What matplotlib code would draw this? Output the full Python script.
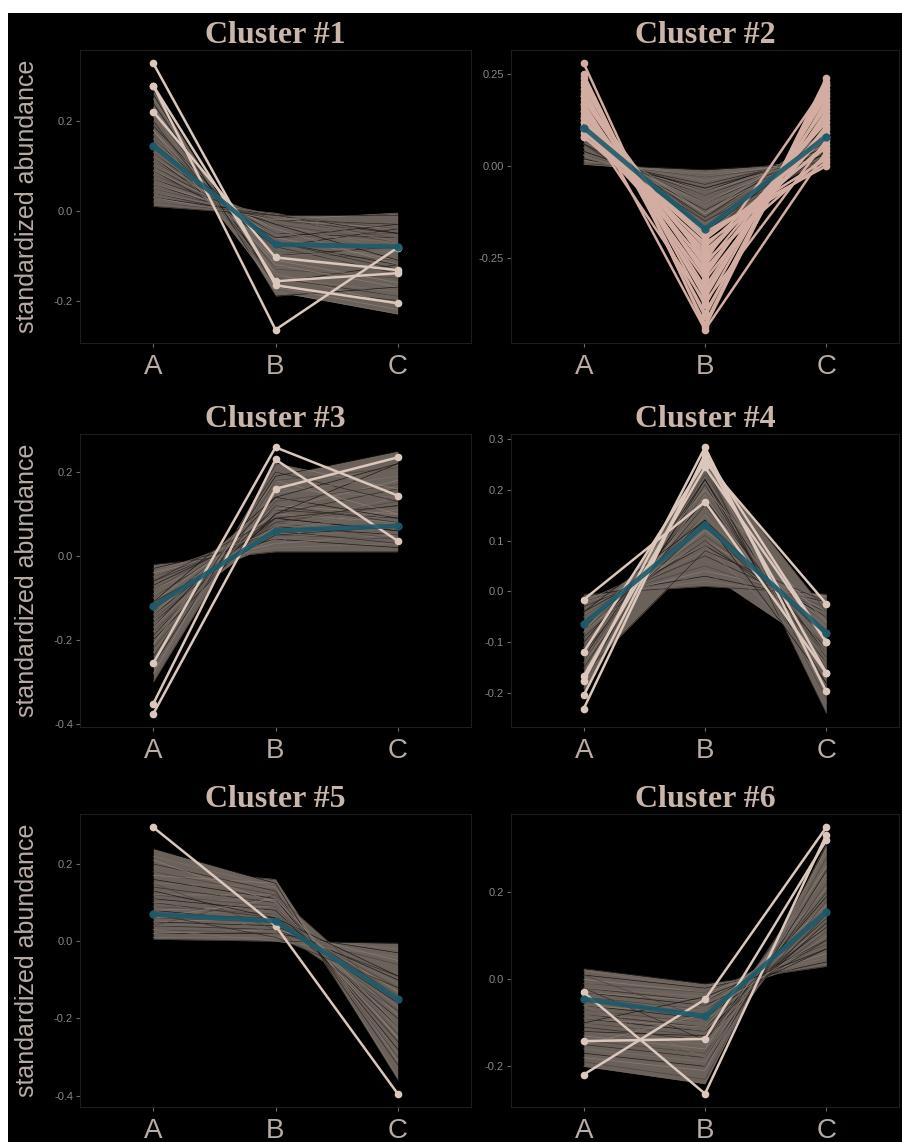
import numpy as np
import matplotlib
matplotlib.use("Agg")
import matplotlib.pyplot as plt
from matplotlib import font_manager
from matplotlib.patches import Rectangle

plt.rcParams["axes.unicode_minus"] = False

categories = ["A", "B", "C"]

# thin member profiles (A, B, C) per cluster
cluster1_lines = [
    (0.27, -0.17, -0.20), (0.25, -0.15, -0.18), (0.24, -0.16, -0.12), (0.23, -0.14, -0.21),
    (0.22, -0.13, -0.15), (0.21, -0.12, -0.10), (0.20, -0.15, -0.19), (0.19, -0.11, -0.13),
    (0.19, -0.10, -0.08), (0.18, -0.12, -0.17), (0.17, -0.09, -0.11), (0.17, -0.13, -0.06),
    (0.16, -0.08, -0.14), (0.16, -0.10, -0.09), (0.15, -0.07, -0.12), (0.15, -0.11, -0.16),
    (0.14, -0.06, -0.05), (0.14, -0.09, -0.10), (0.13, -0.07, -0.13), (0.13, -0.05, -0.07),
    (0.12, -0.08, -0.04), (0.12, -0.06, -0.11), (0.11, -0.04, -0.08), (0.11, -0.07, -0.15),
    (0.10, -0.05, -0.06), (0.10, -0.03, -0.09), (0.09, -0.06, -0.03), (0.09, -0.04, -0.12),
    (0.08, -0.03, -0.07), (0.08, -0.05, -0.10), (0.07, -0.02, -0.05), (0.07, -0.04, -0.08),
    (0.06, -0.03, -0.11), (0.06, -0.02, -0.04), (0.05, -0.02, -0.06), (0.05, -0.01, -0.09),
    (0.04, -0.02, -0.03), (0.04, -0.01, -0.07), (0.03, -0.01, -0.05), (0.03, -0.02, -0.005),
    (0.02, -0.01, -0.04), (0.02, -0.005, -0.06), (0.01, -0.01, -0.01), (0.22, -0.18, -0.23),
    (0.26, -0.19, -0.17), (0.18, -0.17, -0.22), (0.20, -0.16, -0.14), (0.15, -0.14, -0.19),
]
cluster2_lines = [
    (0.12, -0.20, 0.10), (0.11, -0.19, 0.09), (0.11, -0.18, 0.07), (0.10, -0.18, 0.10),
    (0.10, -0.17, 0.08), (0.09, -0.16, 0.09), (0.09, -0.15, 0.06), (0.08, -0.15, 0.07),
    (0.08, -0.14, 0.08), (0.07, -0.13, 0.06), (0.07, -0.14, 0.05), (0.07, -0.12, 0.07),
    (0.06, -0.12, 0.05), (0.06, -0.11, 0.06), (0.06, -0.10, 0.04), (0.05, -0.10, 0.05),
    (0.05, -0.09, 0.04), (0.05, -0.11, 0.06), (0.04, -0.08, 0.04), (0.04, -0.09, 0.03),
    (0.04, -0.07, 0.05), (0.03, -0.07, 0.03), (0.03, -0.06, 0.04), (0.03, -0.08, 0.02),
    (0.02, -0.05, 0.03), (0.02, -0.04, 0.02), (0.02, -0.06, 0.03), (0.015, -0.03, 0.02),
    (0.01, -0.03, 0.01), (0.01, -0.02, 0.02), (0.005, -0.01, 0.01), (0.005, -0.02, 0.005),
    (0.09, -0.19, 0.04), (0.10, -0.13, 0.09), (0.08, -0.17, 0.03), (0.12, -0.16, 0.08),
    (0.06, -0.15, 0.02), (0.03, -0.10, 0.06),
]
cluster3_lines = [
    (-0.02, 0.01, 0.01), (-0.03, 0.02, 0.03), (-0.03, 0.04, 0.02), (-0.04, 0.03, 0.05),
    (-0.05, 0.05, 0.04), (-0.05, 0.02, 0.06), (-0.06, 0.06, 0.03), (-0.07, 0.04, 0.07),
    (-0.07, 0.07, 0.05), (-0.08, 0.05, 0.08), (-0.08, 0.08, 0.04), (-0.09, 0.06, 0.09),
    (-0.10, 0.09, 0.06), (-0.10, 0.07, 0.11), (-0.11, 0.05, 0.07), (-0.11, 0.10, 0.08),
    (-0.12, 0.08, 0.12), (-0.12, 0.06, 0.05), (-0.13, 0.11, 0.09), (-0.13, 0.07, 0.14),
    (-0.14, 0.09, 0.06), (-0.14, 0.12, 0.10), (-0.15, 0.08, 0.13), (-0.15, 0.13, 0.07),
    (-0.16, 0.10, 0.16), (-0.16, 0.06, 0.11), (-0.17, 0.14, 0.09), (-0.17, 0.11, 0.18),
    (-0.18, 0.09, 0.12), (-0.18, 0.15, 0.20), (-0.19, 0.12, 0.08), (-0.20, 0.16, 0.14),
    (-0.20, 0.10, 0.22), (-0.21, 0.18, 0.10), (-0.22, 0.13, 0.17), (-0.23, 0.17, 0.24),
    (-0.24, 0.20, 0.13), (-0.25, 0.15, 0.19), (-0.26, 0.19, 0.25), (-0.28, 0.22, 0.16),
    (-0.30, 0.18, 0.21), (-0.09, 0.03, 0.15), (-0.06, 0.09, 0.12), (-0.04, 0.06, 0.10),
    (-0.11, 0.14, 0.22),
]
cluster4_lines = [
    (-0.005, 0.01, -0.005), (-0.01, 0.02, -0.01), (-0.01, 0.03, -0.02), (-0.02, 0.04, -0.01),
    (-0.02, 0.05, -0.03), (-0.03, 0.06, -0.02), (-0.03, 0.07, -0.04), (-0.04, 0.08, -0.03),
    (-0.04, 0.09, -0.05), (-0.05, 0.10, -0.04), (-0.05, 0.11, -0.06), (-0.06, 0.12, -0.05),
    (-0.06, 0.10, -0.08), (-0.07, 0.13, -0.07), (-0.07, 0.14, -0.09), (-0.08, 0.12, -0.06),
    (-0.08, 0.15, -0.10), (-0.09, 0.16, -0.08), (-0.09, 0.13, -0.11), (-0.10, 0.17, -0.09),
    (-0.10, 0.18, -0.12), (-0.11, 0.15, -0.10), (-0.11, 0.19, -0.13), (-0.12, 0.20, -0.11),
    (-0.12, 0.17, -0.14), (-0.13, 0.21, -0.12), (-0.13, 0.22, -0.15), (-0.14, 0.19, -0.16),
    (-0.14, 0.23, -0.13), (-0.15, 0.24, -0.17), (-0.15, 0.21, -0.18), (-0.16, 0.25, -0.15),
    (-0.17, 0.22, -0.19), (-0.17, 0.26, -0.20), (-0.18, 0.24, -0.21), (-0.19, 0.27, -0.22),
    (-0.20, 0.25, -0.24), (-0.02, 0.09, -0.14), (-0.04, 0.14, -0.18), (-0.08, 0.20, -0.06),
    (-0.12, 0.26, -0.04), (-0.06, 0.04, -0.12), (-0.16, 0.08, -0.02),
]
cluster5_lines = [
    (0.005, 0.0, -0.005), (0.01, 0.01, -0.02), (0.02, 0.02, -0.03), (0.02, 0.03, -0.05),
    (0.03, 0.02, -0.06), (0.03, 0.04, -0.08), (0.04, 0.03, -0.09), (0.04, 0.05, -0.11),
    (0.05, 0.04, -0.10), (0.05, 0.06, -0.13), (0.06, 0.05, -0.12), (0.06, 0.07, -0.15),
    (0.07, 0.06, -0.14), (0.07, 0.08, -0.17), (0.08, 0.05, -0.16), (0.08, 0.09, -0.19),
    (0.09, 0.07, -0.18), (0.09, 0.10, -0.21), (0.10, 0.06, -0.20), (0.10, 0.11, -0.23),
    (0.11, 0.08, -0.22), (0.12, 0.12, -0.25), (0.12, 0.09, -0.24), (0.13, 0.13, -0.27),
    (0.14, 0.10, -0.26), (0.15, 0.14, -0.29), (0.16, 0.11, -0.28), (0.17, 0.15, -0.31),
    (0.18, 0.12, -0.30), (0.19, 0.16, -0.33), (0.20, 0.13, -0.32), (0.22, 0.14, -0.35),
    (0.24, 0.15, -0.36), (0.21, 0.10, -0.25), (0.15, 0.03, -0.18), (0.11, 0.02, -0.07),
    (0.07, 0.01, -0.12), (0.03, 0.0, -0.04), (0.13, 0.06, -0.09), (0.06, 0.11, -0.22),
    (0.04, 0.12, -0.16), (0.18, 0.07, -0.14),
]
cluster6_lines = [
    (0.025, -0.01, 0.03), (0.02, -0.02, 0.05), (0.01, -0.02, 0.04), (0.0, -0.03, 0.06),
    (-0.01, -0.03, 0.08), (-0.01, -0.04, 0.05), (-0.02, -0.05, 0.09), (-0.02, -0.04, 0.11),
    (-0.03, -0.06, 0.07), (-0.03, -0.05, 0.12), (-0.04, -0.07, 0.10), (-0.04, -0.06, 0.14),
    (-0.05, -0.08, 0.09), (-0.05, -0.07, 0.15), (-0.06, -0.09, 0.12), (-0.06, -0.08, 0.17),
    (-0.07, -0.10, 0.11), (-0.07, -0.09, 0.18), (-0.08, -0.11, 0.14), (-0.08, -0.10, 0.20),
    (-0.09, -0.12, 0.13), (-0.09, -0.11, 0.21), (-0.10, -0.13, 0.16), (-0.10, -0.12, 0.23),
    (-0.11, -0.14, 0.15), (-0.12, -0.15, 0.24), (-0.12, -0.13, 0.19), (-0.13, -0.16, 0.26),
    (-0.14, -0.17, 0.18), (-0.14, -0.15, 0.27), (-0.15, -0.18, 0.22), (-0.16, -0.19, 0.29),
    (-0.17, -0.20, 0.25), (-0.18, -0.21, 0.30), (-0.19, -0.23, 0.28), (-0.20, -0.24, 0.31),
    (-0.02, -0.14, 0.20), (-0.06, -0.18, 0.26), (-0.10, -0.04, 0.07), (-0.15, -0.08, 0.10),
    (0.01, -0.09, 0.16), (-0.04, -0.20, 0.22),
]

# highlighted profiles (drawn with points)
cluster1_highlight = [(0.329, -0.166, -0.206), (0.279, -0.265, -0.082),
                      (0.221, -0.104, -0.132), (0.279, -0.157, -0.139)]
cluster2_highlight = [
    (0.28, -0.44, 0.23), (0.25, -0.43, 0.24), (0.24, -0.41, 0.22), (0.23, -0.38, 0.21),
    (0.22, -0.36, 0.20), (0.21, -0.40, 0.18), (0.20, -0.35, 0.19), (0.19, -0.33, 0.17),
    (0.18, -0.30, 0.16), (0.17, -0.34, 0.15), (0.16, -0.29, 0.14), (0.15, -0.27, 0.13),
    (0.15, -0.31, 0.11), (0.14, -0.25, 0.12), (0.13, -0.24, 0.10), (0.13, -0.28, 0.09),
    (0.12, -0.22, 0.08), (0.11, -0.23, 0.06), (0.10, -0.20, 0.05), (0.10, -0.26, 0.03),
    (0.09, -0.19, 0.02), (0.08, -0.21, 0.01), (0.08, -0.18, 0.0), (0.12, -0.37, 0.07),
    (0.17, -0.446, 0.04), (0.19, -0.26, 0.22),
]
cluster3_highlight = [(-0.256, 0.259, 0.144), (-0.352, 0.23, 0.036), (-0.376, 0.16, 0.235)]
cluster4_highlight = [(-0.016, 0.176, -0.16), (-0.119, 0.255, -0.024), (-0.166, 0.244, -0.099),
                      (-0.176, 0.283, -0.196), (-0.204, 0.265, -0.16), (-0.23, 0.27, -0.099)]
cluster5_highlight = [(0.295, 0.04, -0.395)]
cluster6_highlight = [(-0.03, -0.263, 0.332), (-0.142, -0.137, 0.32), (-0.219, -0.046, 0.35)]

# cluster centres
cluster1_mean = (0.145, -0.075, -0.08)
cluster2_mean = (0.105, -0.172, 0.08)
cluster3_mean = (-0.12, 0.06, 0.072)
cluster4_mean = (-0.063, 0.131, -0.081)
cluster5_mean = (0.07, 0.052, -0.15)
cluster6_mean = (-0.045, -0.085, 0.155)

ticks1 = [-0.2, 0.0, 0.2]
ticks2 = [-0.25, 0.0, 0.25]
ticks3 = [-0.4, -0.2, 0.0, 0.2]
ticks4 = [-0.2, -0.1, 0.0, 0.1, 0.2, 0.3]
ticks5 = [-0.4, -0.2, 0.0, 0.2]
ticks6 = [-0.2, 0.0, 0.2]

panels = [
    (cluster1_lines, cluster1_highlight, cluster1_mean, ticks1, 1),
    (cluster2_lines, cluster2_highlight, cluster2_mean, ticks2, 2),
    (cluster3_lines, cluster3_highlight, cluster3_mean, ticks3, 1),
    (cluster4_lines, cluster4_highlight, cluster4_mean, ticks4, 1),
    (cluster5_lines, cluster5_highlight, cluster5_mean, ticks5, 1),
    (cluster6_lines, cluster6_highlight, cluster6_mean, ticks6, 1),
]

installed = {f.name for f in font_manager.fontManager.ttflist}
narrow = next((n for n in ["Liberation Sans Narrow", "DejaVu Sans Condensed", "Liberation Sans"]
               if n in installed), "DejaVu Sans")

FILL = "#6b615b"
THIN = ["#2a2421", "#7d716a", "#14110f", "#8e8179", "#4b423d", "#6f655e"]
HILITE = "#dbc7bb"
HILITE2 = "#d3ada1"
TEAL = "#1e5a6a"
TEXT = "#b9aca4"
TICKTXT = "#8d8580"
TITLE = "#c9b5aa"

W, H = 902, 1142
fig = plt.figure(figsize=(W / 100, H / 100), dpi=100, facecolor="white")
fig.add_artist(Rectangle((8 / W, 0), 1, (H - 13) / H, transform=fig.transFigure,
                         facecolor="black", edgecolor="none", zorder=0))

lefts = [80, 511]
widths = [391, 388]
tops = [50, 434, 814]
height = 293

x = np.arange(1, 4)
grid = np.linspace(1, 3, 241)

for i, (lines, hilite, mean, ticks, dec) in enumerate(panels):
    row, col = divmod(i, 2)
    ax = fig.add_axes([lefts[col] / W, 1 - (tops[row] + height) / H, widths[col] / W, height / H])
    ax.set_facecolor("black")

    data = np.array(lines)
    env = np.array([np.interp(grid, x, r) for r in data])
    ax.fill_between(grid, env.min(axis=0), env.max(axis=0), color=FILL, lw=0, zorder=1)
    for k, r in enumerate(data):
        ax.plot(x, r, color=THIN[k % len(THIN)], lw=0.5, alpha=0.9, zorder=2)

    hc = HILITE2 if i == 1 else HILITE
    for r in hilite:
        ax.plot(x, r, color=hc, lw=1.8, marker="o", ms=4.5, zorder=3)
    ax.plot(x, mean, color=TEAL, lw=3.5, marker="o", ms=5, alpha=0.9, zorder=4)

    allv = np.concatenate([data.ravel(), np.ravel(hilite), np.ravel(mean)])
    lo, hi = allv.min(), allv.max()
    pad = 0.05 * (hi - lo)
    ax.set_ylim(lo - pad, hi + pad)
    ax.set_xlim(0.4, 3.6)

    ax.set_xticks(x)
    ax.set_xticklabels(categories, fontsize=20, color=TEXT, family=[narrow, "DejaVu Sans"])
    ax.set_yticks(ticks)
    ax.set_yticklabels([f"{t:.{dec}f}" for t in ticks], fontsize=8, color=TICKTXT,
                       family="Liberation Sans")
    ax.tick_params(axis="both", colors="#6a6a6a", length=3, width=0.8)
    ax.tick_params(axis="x", pad=5, labelcolor=TEXT)
    ax.tick_params(axis="y", pad=2, labelcolor=TICKTXT)
    for s in ax.spines.values():
        s.set_color("#1d1d1d")
        s.set_linewidth(0.8)

    ax.set_title(f"Cluster #{i + 1}", fontsize=23, fontweight="bold", color=TITLE,
                 family="Liberation Serif", pad=5)
    if col == 0:
        ax.set_ylabel("standardized abundance", fontsize=18, color=TEXT, family="Liberation Sans")
        ax.yaxis.set_label_coords(-0.105, 0.5)

fig.savefig("out.png", dpi=100, facecolor=fig.get_facecolor())
